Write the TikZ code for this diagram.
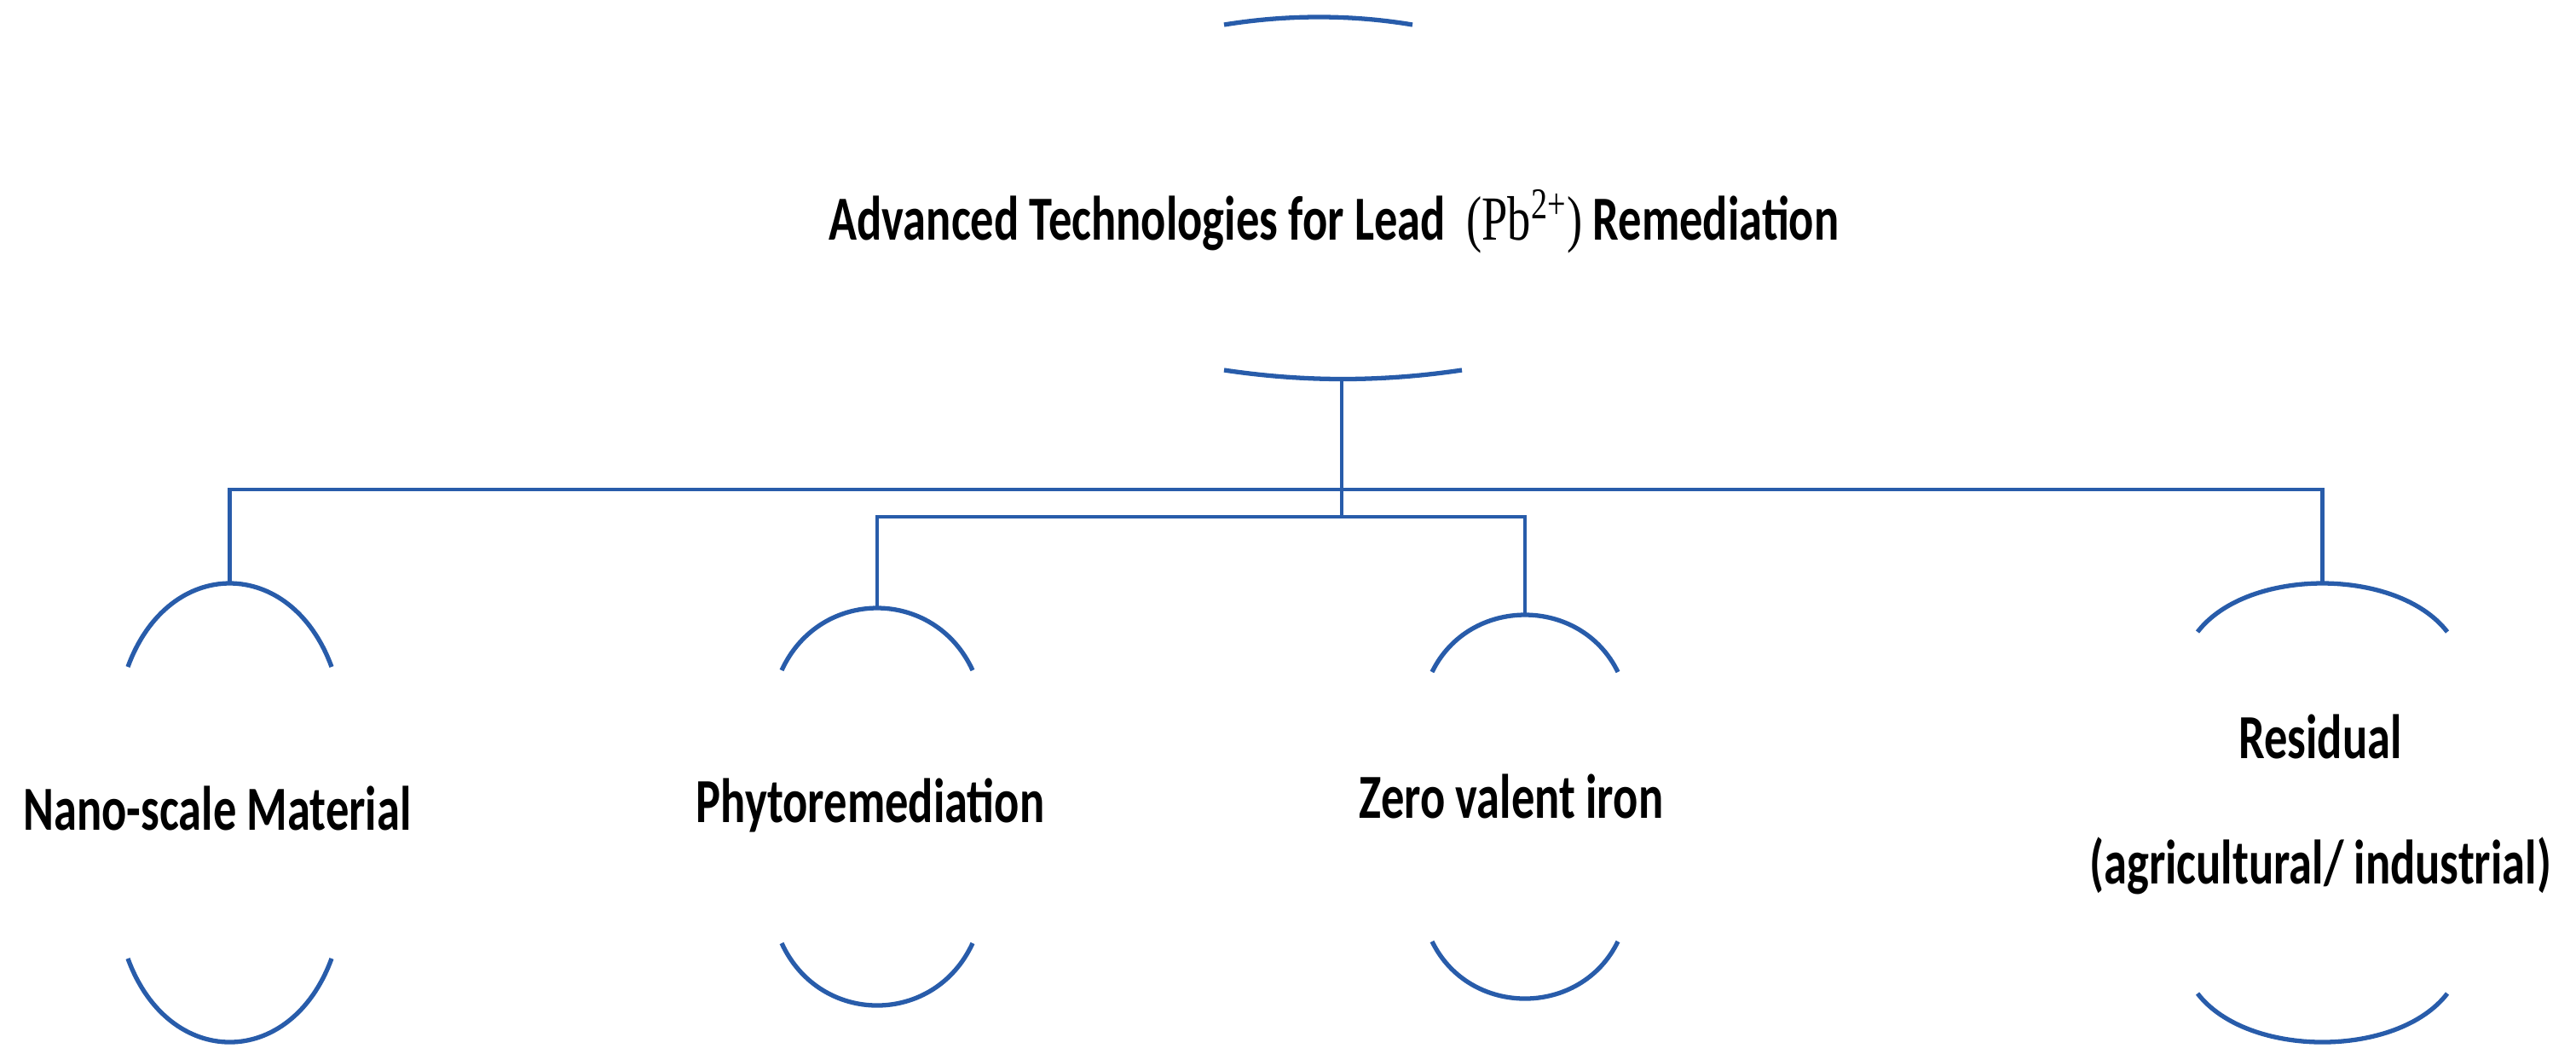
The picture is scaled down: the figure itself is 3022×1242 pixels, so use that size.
\documentclass[tikz,border=0pt]{standalone}
\usepackage{fontspec}
\setmainfont{Carlito}
\newfontfamily\pbfont{Liberation Serif}
\definecolor{linkblue}{RGB}{40,92,170}
\begin{document}
\begin{tikzpicture}[x=0.01cm, y=-0.01cm]
	\tikzset{link/.style={linkblue, line width=1.5pt},
		label/.style={font=\fontsize{15.5}{19}\selectfont\bfseries, align=center, yscale=1.35}}
	\useasboundingbox (0,0) rectangle (3022,1242);

	% title and its brackets
	\draw[link] (1436,29) .. controls (1510,17) and (1585,17) .. (1657,29);
	\node[label] (title) at (1565,260) {Advanced Technologies for Lead ~{\pbfont\mdseries(Pb\textsuperscript{2+})} Remediation};
	\draw[link] (1436,434) .. controls (1530,448) and (1620,448) .. (1715,434);
	\coordinate (root) at (1574,443);
	\coordinate (hub) at (1574,574);
	\coordinate (hub2) at (1574,606);

	% branch brackets
	\foreach \name/\xl/\xr/\yt/\pt/\yb/\pb in {nano/150/389/782/684/1124/1222, phyto/917/1141/786/713/1106/1179, zvi/1680/1898/788/721/1104/1171, resid/2578/2871/741/684/1165/1222}
	{
		\draw[link] (\xl,\yt) .. controls ({\xl+(\xr-\xl)*0.2},{(\pt-0.25*\yt)/0.75}) and ({\xr-(\xr-\xl)*0.2},{(\pt-0.25*\yt)/0.75}) .. (\xr,\yt);
		\draw[link] (\xl,\yb) .. controls ({\xl+(\xr-\xl)*0.2},{(\pb-0.25*\yb)/0.75}) and ({\xr-(\xr-\xl)*0.2},{(\pb-0.25*\yb)/0.75}) .. (\xr,\yb);
		\coordinate (\name-top) at ({(\xl+\xr)/2},\pt);
	}

	\node[label] (nano) at (255,948) {Nano-scale Material};
	\node[label] (phyto) at (1021,944) {Phytoremediation};
	\node[label] (zvi) at (1773,934) {Zero valent iron};
	\node[label] (resid) at (2722,943) {Residual\\[12pt](agricultural/ industrial)};

	% connectors
	\draw[link, line width=1.2pt] (root) -- (hub);
	\draw[link, line width=1.2pt] (nano-top) |- (hub) -| (resid-top);
	\draw[link, line width=1.2pt] (hub) -- (hub2);
	\draw[link, line width=1.2pt] (phyto-top) |- (hub2) -| (zvi-top);
\end{tikzpicture}
\end{document}
